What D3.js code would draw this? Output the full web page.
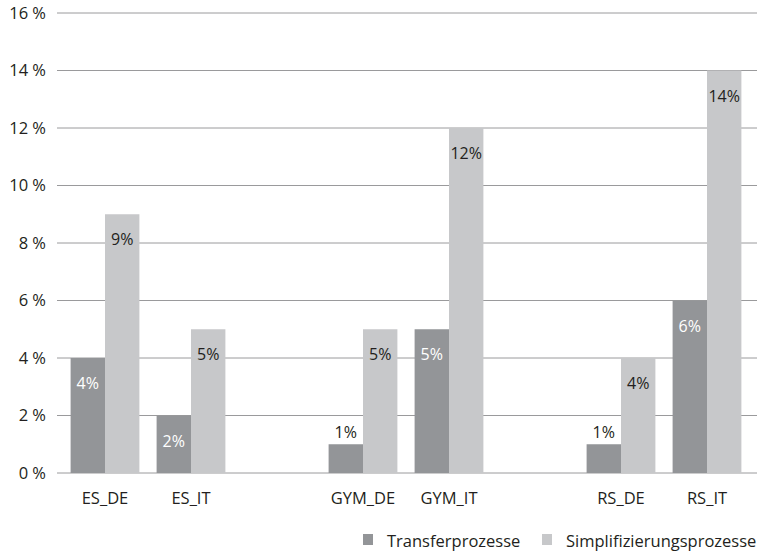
<!DOCTYPE html>
<html>
<head>
<meta charset="utf-8">
<script src="https://cdn.jsdelivr.net/npm/d3@7"></script>
<style>
  body { margin: 0; background: #fff; }
  svg text { font-family: "Open Sans", "Noto Sans", sans-serif; fill: #231f20; }
</style>
</head>
<body>
<script>
// categories, with two empty slots as spacers between the groups
const categories = ['ES_DE', 'ES_IT', 'gap1', 'GYM_DE', 'GYM_IT', 'gap2', 'RS_DE', 'RS_IT'];
const labelled = ['ES_DE', 'ES_IT', 'GYM_DE', 'GYM_IT', 'RS_DE', 'RS_IT'];
const transfer = [4, 2, 1, 5, 1, 6];
const simplifizierung = [9, 5, 5, 12, 4, 14];
const seriesNames = ['Transferprozesse', 'Simplifizierungsprozesse'];
const yTicks = [0, 2, 4, 6, 8, 10, 12, 14, 16];

const width = 759, height = 552;
const colors = ['#939598', '#c7c8ca'];

const svg = d3.select('body').append('svg')
  .attr('width', width)
  .attr('height', height);

const x = d3.scaleBand().domain(categories).range([62, 750]).paddingInner(0.2).paddingOuter(0.1);
const xSub = d3.scaleBand().domain(seriesNames).range([0, x.bandwidth()]);
const y = d3.scaleLinear().domain([0, 16]).range([473, 13]);

// gridlines
svg.append('g').selectAll('line')
  .data(yTicks)
  .enter().append('line')
  .attr('x1', 57).attr('x2', 757)
  .attr('y1', d => y(d)).attr('y2', d => y(d))
  .attr('stroke', '#9a9a9c')
  .attr('stroke-width', 1);

// y tick labels
svg.append('g').selectAll('text')
  .data(yTicks)
  .enter().append('text')
  .attr('x', 46)
  .attr('y', d => y(d))
  .attr('dy', '0.36em')
  .attr('text-anchor', 'end')
  .style('font-size', '16.5px')
  .text(d => d + ' %');

const rows = labelled.map((c, i) => ({ cat: c, vals: [transfer[i], simplifizierung[i]] }));

const group = svg.append('g').selectAll('g')
  .data(rows)
  .enter().append('g')
  .attr('transform', d => `translate(${x(d.cat)},0)`);

group.selectAll('rect')
  .data(d => d.vals.map((v, k) => ({ v, k })))
  .enter().append('rect')
  .attr('x', d => xSub(seriesNames[d.k]))
  .attr('width', xSub.bandwidth())
  .attr('y', d => y(d.v))
  .attr('height', d => y(0) - y(d.v))
  .attr('fill', d => colors[d.k]);

group.selectAll('text.val')
  .data(d => d.vals.map((v, k) => ({ v, k })))
  .enter().append('text')
  .attr('class', 'val')
  .attr('x', d => xSub(seriesNames[d.k]) + xSub.bandwidth() / 2)
  .attr('y', d => (y(0) - y(d.v) < 40) ? y(d.v) - 6 : y(d.v) + 31)
  .attr('text-anchor', 'middle')
  .style('font-size', '16px')
  .style('fill', d => (d.k === 0 && y(0) - y(d.v) >= 40) ? '#ffffff' : '#231f20')
  .text(d => d.v + '%');

// category labels
svg.append('g').selectAll('text')
  .data(labelled)
  .enter().append('text')
  .attr('x', d => x(d) + x.bandwidth() / 2)
  .attr('y', 504)
  .attr('text-anchor', 'middle')
  .style('font-size', '16.5px')
  .text(d => d);

// legend
const legendX = [363, 542];
const legend = svg.append('g').selectAll('g')
  .data(seriesNames)
  .enter().append('g')
  .attr('transform', (d, i) => `translate(${legendX[i]},534)`);
legend.append('rect')
  .attr('width', 10).attr('height', 11)
  .attr('fill', (d, i) => colors[i]);
legend.append('text')
  .attr('x', 24).attr('y', 13)
  .style('font-size', '16.5px')
  .text(d => d);
</script>
</body>
</html>
